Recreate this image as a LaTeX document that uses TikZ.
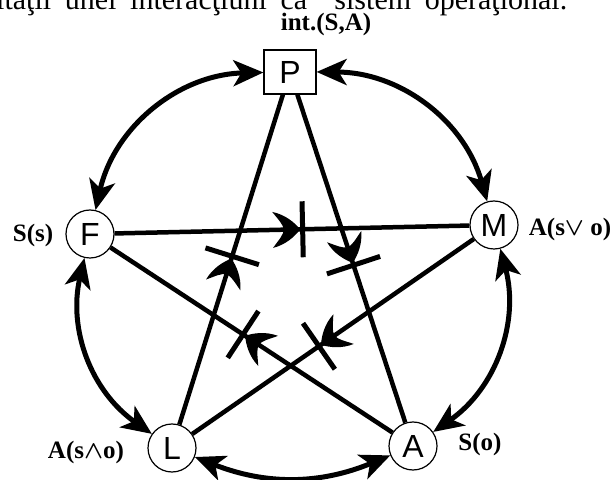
\documentclass[tikz,border=0pt]{standalone}
\usepackage{amsmath}
\usepackage{fontspec}
\setmainfont{Liberation Serif}
\newfontfamily\handfont{Liberation Sans}
\usetikzlibrary{arrows.meta,decorations.markings}

\tikzset{
	vertex/.style={circle, draw, line width=1.2pt, minimum size=48pt, inner sep=0pt, font=\handfont\fontsize{32}{32}\selectfont},
	topbox/.style={rectangle, draw, line width=1.2pt, minimum width=52pt, minimum height=44pt, inner sep=0pt, font=\handfont\fontsize{32}{32}\selectfont},
	lbl/.style={inner sep=0pt, font=\bfseries\fontsize{25}{25}\selectfont},
	rim/.style={line width=5pt, {Stealth[length=30pt,width=26pt,inset=8pt]}-{Stealth[length=30pt,width=26pt,inset=8pt]}},
	chord/.style={line width=4.5pt},
	blocked/.style={postaction={decorate,decoration={markings,
		mark=at position #1 with {\fill (-2.5pt,0) .. controls (-8pt,7pt) and (-17pt,15pt) .. (-30pt,18pt) .. controls (-24pt,10pt) and (-19pt,5pt) .. (-19pt,0) .. controls (-19pt,-5pt) and (-24pt,-10pt) .. (-30pt,-18pt) .. controls (-17pt,-15pt) and (-8pt,-7pt) .. (-2.5pt,0) -- cycle;},
		mark=at position #1 with {\draw[line width=5pt] (0,-28pt) -- (0,28pt);}}}}
}

\begin{document}
\begin{tikzpicture}[x=1pt,y=1pt]
	\useasboundingbox (0,0) rectangle (615,479);
	\node[anchor=base west, inner sep=0pt, font=\fontsize{30}{30}\selectfont] (title) at (-4,469) {\makebox[571pt][s]{ităţii unei interacţiuni ca\ \ sistem operaţional.}};
	\node[lbl] (intSA) at (326,455) {int.(S,A)};
%
	\node[topbox] (P) at (290,407) {P};
	\node[vertex] (F) at (90,245) {F};
	\node[vertex] (M) at (494,254) {M};
	\node[vertex] (L) at (172,31) {L};
	\node[vertex] (A) at (413,33) {A};
%
	\node[lbl] (Ss) at (33,244) {S(s)};
	\node[lbl] (Asvo) at (570,250) {A(s$\boldsymbol{\vee}$ o)};
	\node[lbl] (Asmo) at (86,27) {A(s$\boldsymbol{\wedge}$o)};
	\node[lbl] (So) at (480,35) {S(o)};
%
	\draw[rim] (P) to[bend left=37] (M);
	\draw[rim] (M) to[bend left=35] (A);
	\draw[rim] (A) to[bend left=22] (L);
	\draw[rim] (L) to[bend left=34] (F);
	\draw[rim] (F) to[bend left=38] (P);
%
	\draw[chord, blocked=0.53] (F) -- (M);
	\draw[chord, blocked=0.52] (P) -- (A);
	\draw[chord, blocked=0.55] (M) -- (L);
	\draw[chord, blocked=0.53] (A) -- (F);
	\draw[chord, blocked=0.51] (L) -- (P);
\end{tikzpicture}
\end{document}
